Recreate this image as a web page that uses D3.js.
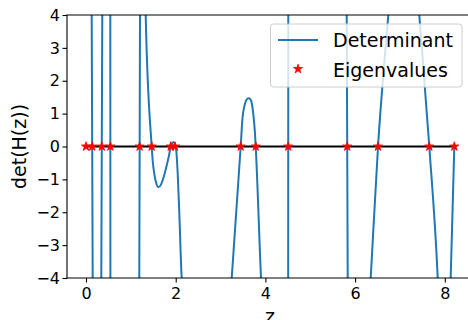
<!DOCTYPE html>
<html lang="en">
<head>
  <meta charset="UTF-8">
  <title>Determinant</title>
  <script src="https://d3js.org/d3.v7.min.js"></script>
  <style>
    body { margin: 0; background: #fff; }
    text { font-family: "DejaVu Sans", sans-serif; fill: #000; }
  </style>
</head>
<body>
  <script>
    // eigenvalues (red stars, all at det = 0)
    var eigenvalues = [0, 0.138, 0.352, 0.543, 1.195, 1.465, 1.889, 1.984,
                       3.449, 3.784, 4.509, 5.824, 6.511, 7.654, 8.212];

    // determinant curve; +/-10 are off-chart (clipped)
    var detZ = [0, 0.127, 0.149, 0.25, 0.341, 0.363, 0.45, 0.542, 0.544, 0.85,
                1.188, 1.204, 1.27, 1.331, 1.465, 1.487, 1.523, 1.561, 1.612,
                1.672, 1.732, 1.799, 1.851, 1.889, 1.918, 1.947, 1.978, 1.984,
                2.007, 2.045, 2.081, 2.134, 2.7, 3.249, 3.449, 3.485, 3.545,
                3.596, 3.634, 3.679, 3.730, 3.768, 3.784, 3.902, 4.2, 4.508,
                4.510, 5.2, 5.813, 5.835, 6.1, 6.348, 6.511, 6.740, 7.1, 7.431,
                7.654, 7.842, 8.0, 8.131, 8.212];
    var detVal = [10, 4, -4, -10, -4, 4, 10, 4, -4, -10,
                  -4, 4, 10, 4, 0, -0.43, -0.83, -1.09, -1.24,
                  -1.16, -0.93, -0.58, -0.27, 0, 0.10, 0.13, 0.10, 0,
                  -0.07, -0.83, -2.05, -4, -10, -4, 0, 0.79, 1.30,
                  1.45, 1.47, 1.40, 0.99, 0.39, 0, -4, -10, -4,
                  4, 10, 4, -4, -10, -4, 0, 4, 10, 4,
                  0, -4, -10, -4, 0];

    var xTicks = [0, 2, 4, 6, 8];
    var yTicks = [-4, -3, -2, -1, 0, 1, 2, 3, 4];
    var legendLabels = ["Determinant", "Eigenvalues"];

    var W = 468, H = 320;
    var pLeft = 67, pTop = 15, pBottom = 278, pRight = 473;

    var svg = d3.select("body").append("svg")
      .attr("width", W)
      .attr("height", H);

    var x = d3.scaleLinear().domain([-0.4236, 8.6286]).range([pLeft, pRight]);
    var y = d3.scaleLinear().domain([-4, 4]).range([pBottom, pTop]);

    svg.append("clipPath").attr("id", "plotclip")
      .append("rect")
      .attr("x", pLeft).attr("y", pTop)
      .attr("width", pRight - pLeft).attr("height", pBottom - pTop);

    var plot = svg.append("g").attr("clip-path", "url(#plotclip)");

    var detPoints = detZ.map(function(z, i) { return [z, detVal[i]]; });

    var line = d3.line()
      .x(d => x(d[0]))
      .y(d => y(d[1]))
      .curve(d3.curveMonotoneX);

    plot.append("path")
      .datum(detPoints)
      .attr("d", line)
      .attr("fill", "none")
      .attr("stroke", "#1f77b4")
      .attr("stroke-width", 2)
      .attr("stroke-linejoin", "round");

    // zero line across the eigenvalues
    plot.append("line")
      .attr("x1", x(d3.min(eigenvalues)))
      .attr("x2", x(d3.max(eigenvalues)))
      .attr("y1", y(0)).attr("y2", y(0))
      .attr("stroke", "#000")
      .attr("stroke-width", 2);

    var star = d3.symbol().type(d3.symbolStar).size(26);

    plot.selectAll(".eig")
      .data(eigenvalues)
      .enter()
      .append("path")
      .attr("class", "eig")
      .attr("transform", d => "translate(" + x(d) + "," + y(0) + ")")
      .attr("d", star)
      .attr("fill", "red")
      .attr("stroke", "red")
      .attr("stroke-width", 0.8);

    // axes
    var xAxis = d3.axisBottom(x).tickValues(xTicks).tickSize(4.5).tickPadding(5.5)
      .tickFormat(d3.format("d"));
    var yAxis = d3.axisLeft(y).tickValues(yTicks).tickSize(4.5).tickPadding(2.5)
      .tickFormat(d3.format("d"));

    var gx = svg.append("g").attr("transform", "translate(0," + pBottom + ")").call(xAxis);
    var gy = svg.append("g").attr("transform", "translate(" + pLeft + ",0)").call(yAxis);

    [gx, gy].forEach(function(g) {
      g.select(".domain").remove();
      g.selectAll("line").attr("stroke", "#000").attr("stroke-width", 1.1);
      g.selectAll("text").style("font-size", "16px")
        .style("font-family", "'DejaVu Sans', sans-serif").attr("fill", "#000");
    });

    // spines
    svg.append("line").attr("x1", pLeft).attr("x2", pLeft)
      .attr("y1", pTop).attr("y2", pBottom + 0.5)
      .attr("stroke", "#000").attr("stroke-width", 1.1);
    svg.append("line").attr("x1", pLeft - 0.5).attr("x2", pRight)
      .attr("y1", pBottom).attr("y2", pBottom)
      .attr("stroke", "#000").attr("stroke-width", 1.1);
    svg.append("line").attr("x1", pLeft - 0.5).attr("x2", pRight)
      .attr("y1", pTop).attr("y2", pTop)
      .attr("stroke", "#000").attr("stroke-width", 1.1);

    // axis labels
    svg.append("text")
      .attr("transform", "translate(26," + ((pTop + pBottom) / 2) + ") rotate(-90)")
      .attr("text-anchor", "middle")
      .style("font-size", "19px")
      .text("det(H(z))");

    svg.append("text")
      .attr("x", (pLeft + pRight) / 2)
      .attr("y", 323)
      .attr("text-anchor", "middle")
      .style("font-size", "19px")
      .text("z");

    // legend
    var lg = svg.append("g");
    lg.append("rect")
      .attr("x", 270.5).attr("y", 24)
      .attr("width", 191.5).attr("height", 63)
      .attr("rx", 3)
      .attr("fill", "rgba(255,255,255,0.8)")
      .attr("stroke", "#cccccc")
      .attr("stroke-width", 1);
    lg.append("line")
      .attr("x1", 278).attr("x2", 318)
      .attr("y1", 40).attr("y2", 40)
      .attr("stroke", "#1f77b4").attr("stroke-width", 2);
    lg.append("path")
      .attr("transform", "translate(298,69)")
      .attr("d", star)
      .attr("fill", "red").attr("stroke", "red").attr("stroke-width", 0.8);
    lg.selectAll(".lgtext")
      .data(legendLabels)
      .enter()
      .append("text")
      .attr("class", "lgtext")
      .attr("x", 333)
      .attr("y", (d, i) => 47 + i * 29.5)
      .style("font-size", "19px")
      .text(d => d);
  </script>
</body>
</html>
